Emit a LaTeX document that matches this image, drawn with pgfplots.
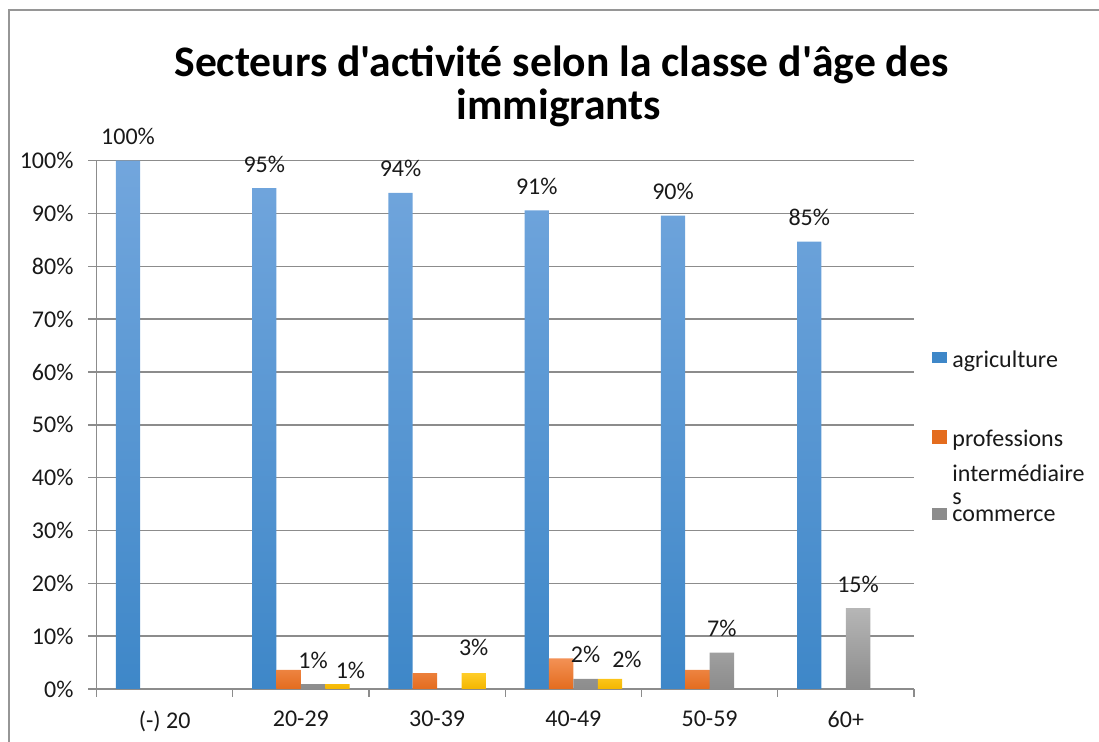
\documentclass[border=0pt]{standalone}
\usepackage{pgfplots}
\pgfplotsset{compat=1.18}
\usepackage{fontspec}
\setmainfont{Carlito}
\newfontfamily\titlefont{Carlito}
\definecolor{gridc}{RGB}{140,140,140}
\definecolor{frame}{RGB}{150,150,150}
\definecolor{txt}{RGB}{25,25,25}
\definecolor{blueT}{RGB}{114,166,221}
\definecolor{blueB}{RGB}{62,135,200}
\definecolor{orT}{RGB}{243,145,85}
\definecolor{orB}{RGB}{228,108,30}
\definecolor{grT}{RGB}{182,182,182}
\definecolor{grB}{RGB}{140,140,140}
\definecolor{yeT}{RGB}{255,205,40}
\definecolor{yeB}{RGB}{244,182,0}
\begin{document}
\begin{tikzpicture}
\useasboundingbox (0,0) rectangle (549.5pt,371pt);
\draw[frame, line width=0.6pt] (4.5pt,-2pt) -- (4.5pt,366pt) -- (552pt,366pt);
\node[anchor=base, inner sep=0pt, font=\titlefont\fontsize{21.8}{24}\selectfont\bfseries] at (280.75pt,332.65pt) {Secteurs d'activité selon la classe d'âge des};
\node[anchor=base, inner sep=0pt, font=\titlefont\fontsize{21.8}{24}\selectfont\bfseries] at (279.5pt,311.35pt) {immigrants};
\begin{axis}[
  at={(48.25pt,26.5pt)}, anchor=south west,
  scale only axis, width=408.75pt, height=264.15pt,
  xmin=-0.5, xmax=5.5, ymin=0, ymax=100,
  axis x line*=bottom, axis y line*=left,
  axis line style={draw=gridc, line width=0.7pt},
  ymajorgrids, grid style={draw=gridc, line width=0.7pt},
  ytick={0,10,...,100},
  yticklabel={\pgfmathprintnumber{\tick}\%},
  /pgf/number format/assume math mode=true,
  xtick={0,1,2,3,4,5},
  xticklabels={(-) 20,20-29,30-39,40-49,50-59,60+},
  minor xtick={-0.5,0.5,1.5,2.5,3.5,4.5,5.5},
  major x tick style={draw=none},
  tick align=outside,
  major tick length=4pt, minor tick length=4pt,
  tick style={draw=gridc, line width=0.7pt},
  tick label style={font=\fontsize{12}{14}\selectfont, text=txt},
  yticklabel style={xshift=-4pt},
  xticklabel style={yshift=-3.5pt},
  ybar=0pt, bar width=12.2pt,
  nodes near coords={\pgfmathprintnumber[fixed,precision=0]{\pgfplotspointmeta}\%},
  nodes near coords style={font=\fontsize{12}{14}\selectfont, text=txt, anchor=base, yshift=8pt},
  point meta=explicit,
]
\addplot[draw=none, top color=blueT, bottom color=blueB] table[meta=lab] {
x y lab
0 100 100
1 94.8 95
2 93.9 94
3 90.6 91
4 89.6 90
5 84.7 85
};
\addplot[draw=none, top color=orT, bottom color=orB, nodes near coords={}] table[meta=y] {
x y
1 3.6
2 3.0
3 5.8
4 3.6
};
\addplot[draw=none, top color=grT, bottom color=grB] table[meta=lab] {
x y lab
1 0.9 1
3 1.9 2
4 6.9 7
5 15.3 15
};
\addplot[draw=none, top color=yeT, bottom color=yeB,
  visualization depends on={value \thisrow{dx} \as \dx},
  visualization depends on={value \thisrow{dy} \as \dy},
  nodes near coords style={xshift={\dx*1pt}, yshift={\dy*1pt}}] table[meta=lab] {
x y lab dx dy
1 0.9 1 6.5 -5
2 3.0 3 0 1
3 1.9 2 8.5 -2.5
};
\end{axis}
% legend
\fill[blueB] (466pt,189.35pt) rectangle (473.3pt,195.15pt);
\fill[orB] (466pt,149pt) rectangle (473.3pt,156pt);
\fill[grB] (466pt,111pt) rectangle (473.3pt,117pt);
\begin{scope}[every node/.style={anchor=base west, inner sep=0pt, font=\fontsize{12}{14}\selectfont, text=txt}]
\node at (476pt,187pt) {agriculture};
\node at (476pt,147.65pt) {professions};
\node at (476pt,130.15pt) {intermédiaire};
\node at (476pt,118.5pt) {s};
\node at (476pt,110.15pt) {commerce};
\end{scope}
\end{tikzpicture}
\end{document}
